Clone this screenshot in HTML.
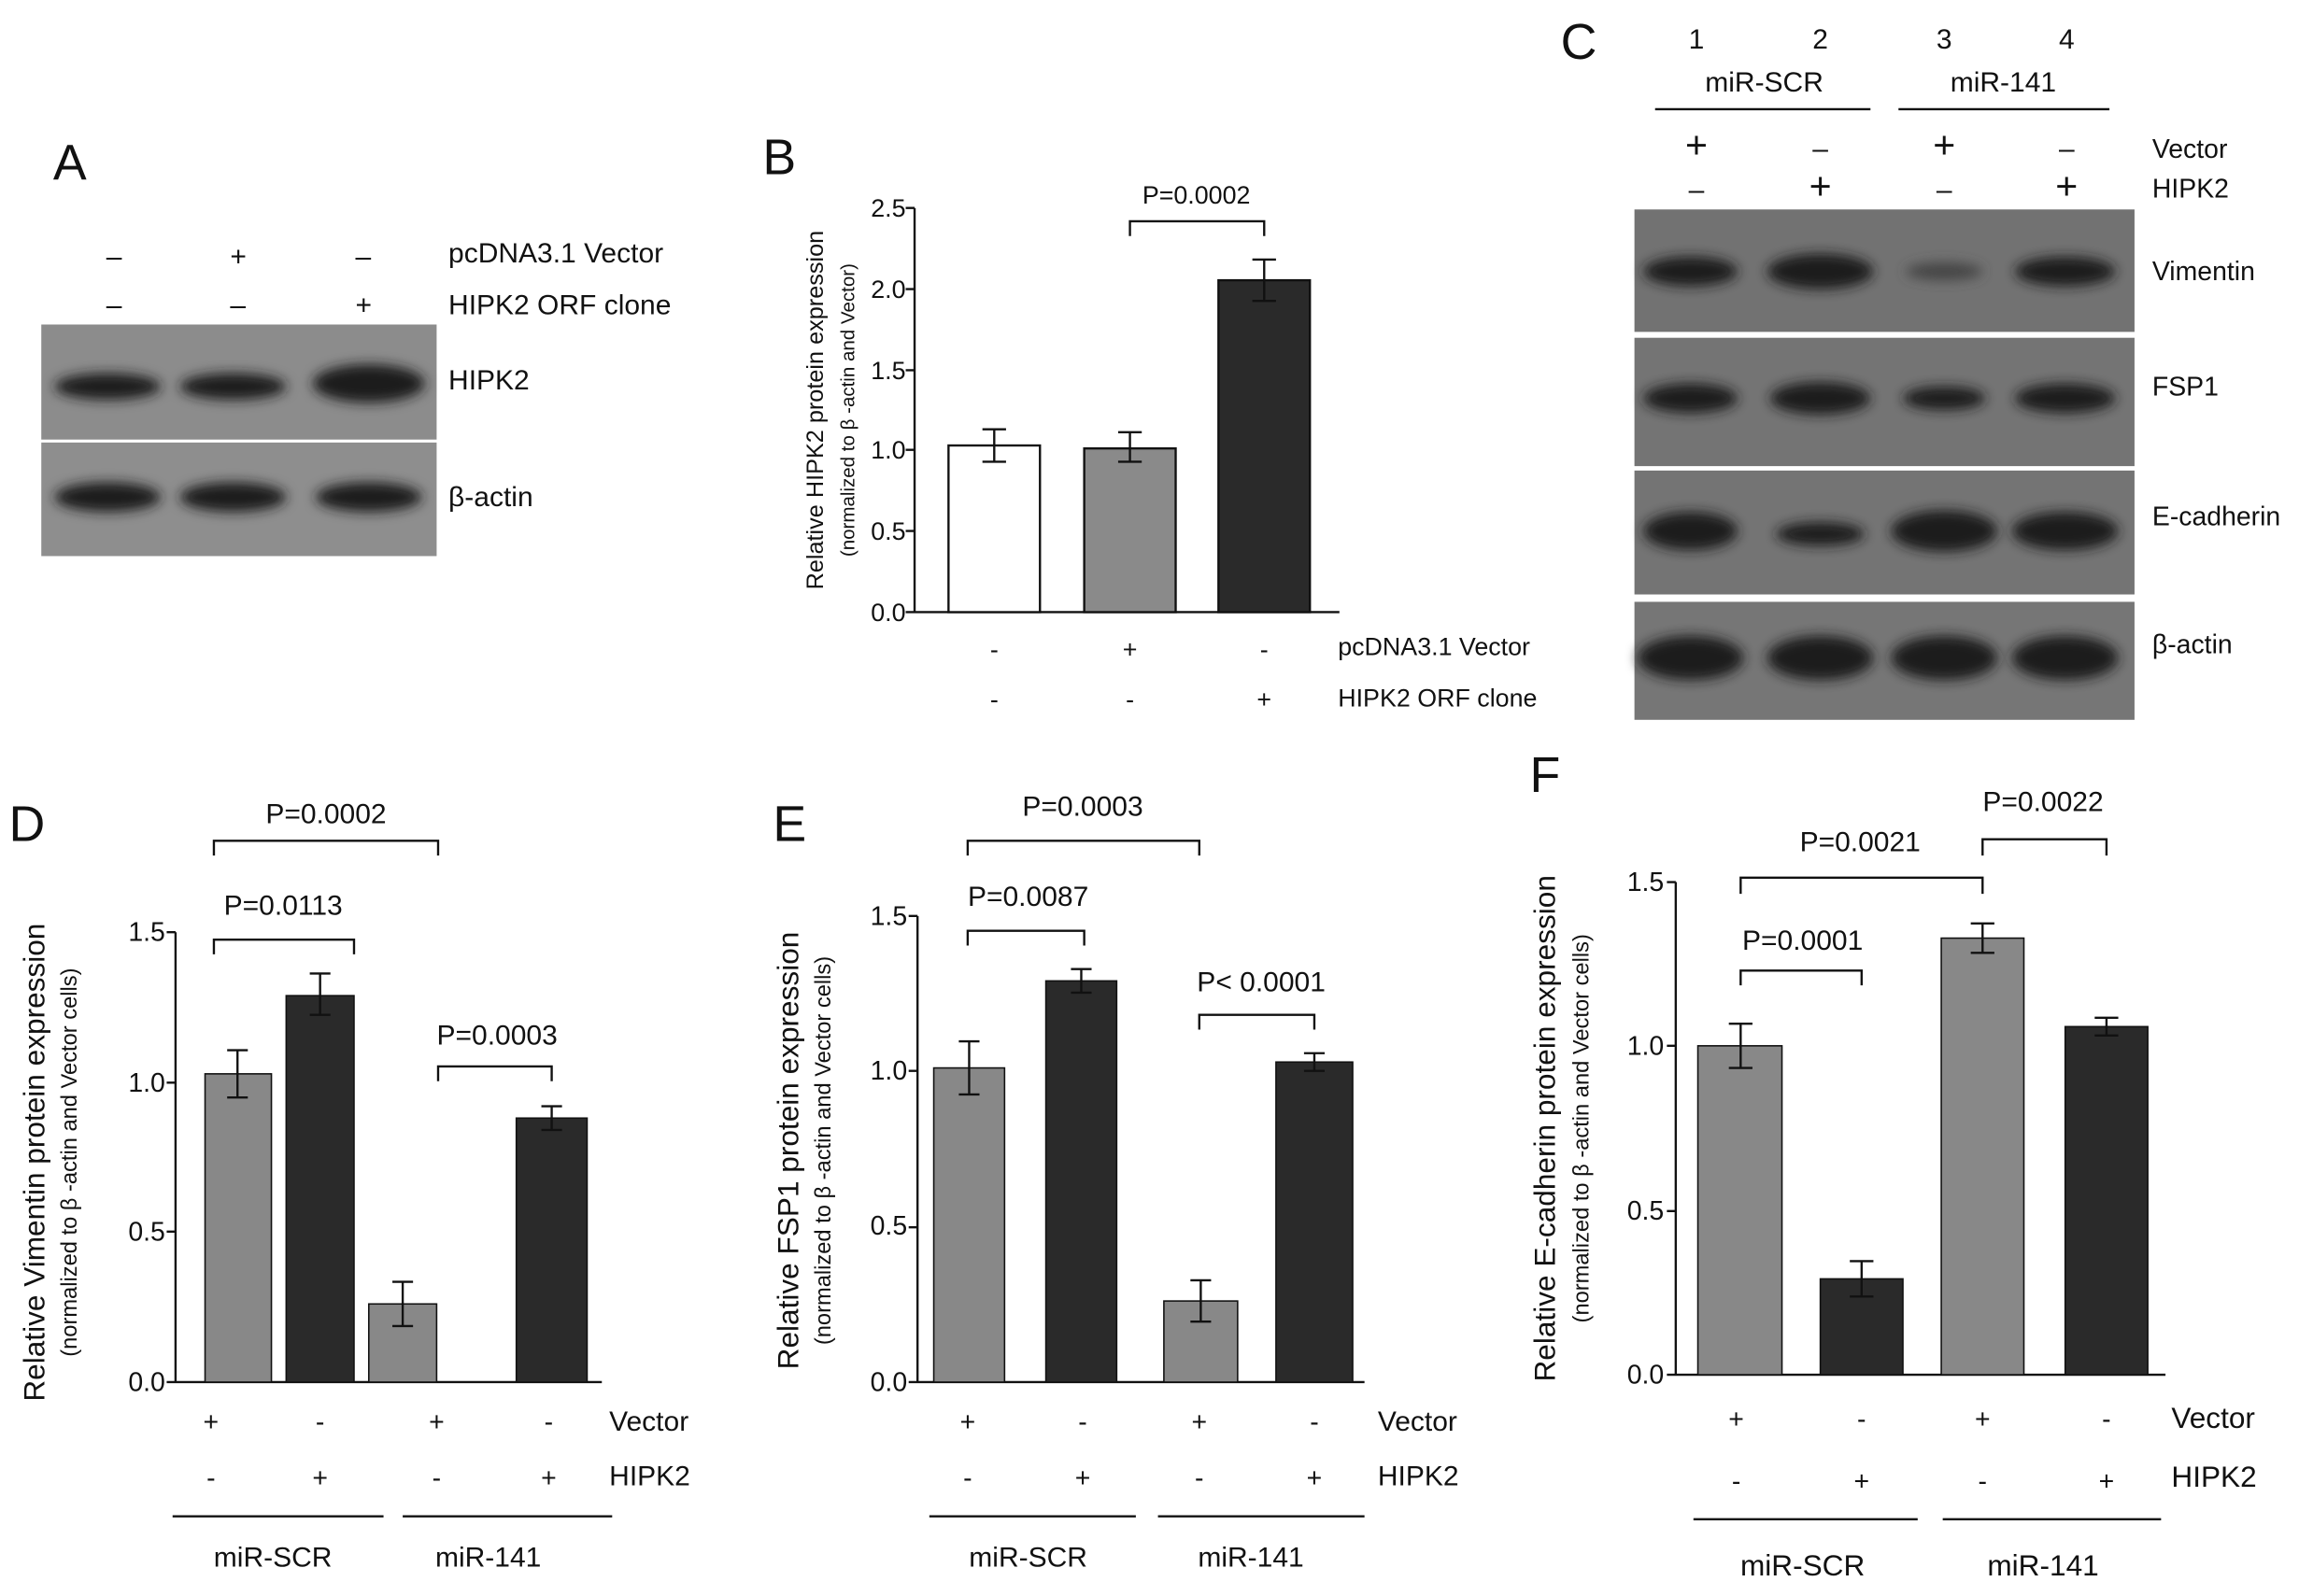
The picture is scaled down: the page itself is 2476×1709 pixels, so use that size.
<!DOCTYPE html>
<html><head><meta charset="utf-8"><style>
html,body{margin:0;padding:0;background:#fff;}
svg{display:block;}
text{font-family:"Liberation Sans",Arial,sans-serif;fill:#111;}
</style></head><body>
<svg width="2476" height="1709" viewBox="0 0 1568 1082" preserveAspectRatio="none" xmlns="http://www.w3.org/2000/svg">
<defs>
<filter id="blur" x="-20%" y="-50%" width="140%" height="200%"><feGaussianBlur stdDeviation="4"/></filter>
</defs>
<!-- Panel A -->
<text x="36" y="122" font-size="34">A</text>
<g font-size="19">
<text x="72" y="180">–</text><text x="156" y="180">+</text><text x="241" y="180">–</text>
<text x="72" y="213">–</text><text x="156" y="213">–</text><text x="241" y="213">+</text>
<text x="304" y="178">pcDNA3.1 Vector</text><text x="304" y="213">HIPK2 ORF clone</text>
<text x="304" y="264">HIPK2</text><text x="304" y="343">β-actin</text>
</g>
<rect x="28" y="220" width="268" height="78" fill="#8c8c8c"/>
<rect x="28" y="300" width="268" height="77" fill="#8e8e8e"/>
<g fill="#1c1c1c" filter="url(#blur)">
<ellipse cx="73" cy="262" rx="36" ry="9"/><ellipse cx="158" cy="262" rx="36" ry="9"/><ellipse cx="250" cy="260" rx="38" ry="13"/>
<ellipse cx="73" cy="337" rx="36" ry="10"/><ellipse cx="158" cy="337" rx="36" ry="10"/><ellipse cx="250" cy="337" rx="36" ry="10"/>
</g>
<!-- Panel B -->
<text x="517" y="118" font-size="34">B</text>
<g font-size="17" text-anchor="end">
<text x="614" y="147">2.5</text><text x="614" y="202">2.0</text><text x="614" y="257">1.5</text><text x="614" y="311">1.0</text><text x="614" y="366">0.5</text><text x="614" y="421">0.0</text>
</g>
<path d="M620 141V415H908M614 141H620M614 196H620M614 251H620M614 305H620M614 360H620M614 415H620" stroke="#111" stroke-width="1.5" fill="none"/>
<rect x="643" y="302" width="62" height="113" fill="#fff" stroke="#111" stroke-width="1.5"/>
<rect x="735" y="304" width="62" height="111" fill="#8a8a8a" stroke="#111" stroke-width="1.5"/>
<rect x="826" y="190" width="62" height="225" fill="#2a2a2a" stroke="#111" stroke-width="1.5"/>
<path d="M674 291V313M666 291H682M666 313H682M766 293V313M758 293H774M758 313H774M857 176V204M849 176H865M849 204H865" stroke="#111" stroke-width="1.5"/>
<path d="M766 160V150H857V160" stroke="#111" stroke-width="1.5" fill="none"/>
<text x="811" y="138" font-size="17" text-anchor="middle">P=0.0002</text>
<g font-size="17" text-anchor="middle"><text x="674" y="446">-</text><text x="766" y="446">+</text><text x="857" y="446">-</text><text x="674" y="480">-</text><text x="766" y="480">-</text><text x="857" y="480">+</text></g>
<text x="907" y="444" font-size="17">pcDNA3.1 Vector</text><text x="907" y="479" font-size="17">HIPK2 ORF clone</text>
<text transform="translate(558 278) rotate(-90)" font-size="16" text-anchor="middle">Relative HIPK2 protein expression</text>
<text transform="translate(579 278) rotate(-90)" font-size="13" text-anchor="middle">(normalized to β -actin and Vector)</text>
<!-- Panel C -->
<text x="1058" y="40" font-size="34">C</text>
<g font-size="19" text-anchor="middle">
<text x="1150" y="33">1</text><text x="1234" y="33">2</text><text x="1318" y="33">3</text><text x="1401" y="33">4</text>
<text x="1196" y="62">miR-SCR</text><text x="1358" y="62">miR-141</text>
<text x="1150" y="107" font-size="26">+</text><text x="1234" y="107">–</text><text x="1318" y="107" font-size="26">+</text><text x="1401" y="107">–</text>
<text x="1150" y="135">–</text><text x="1234" y="135" font-size="26">+</text><text x="1318" y="135">–</text><text x="1401" y="135" font-size="26">+</text>
</g>
<path d="M1122 74H1268M1287 74H1430" stroke="#111" stroke-width="1.5"/>
<text x="1459" y="107" font-size="18">Vector</text><text x="1459" y="134" font-size="18">HIPK2</text>
<rect x="1108" y="142" width="339" height="83" fill="#727272"/>
<rect x="1108" y="229" width="339" height="87" fill="#747474"/>
<rect x="1108" y="319" width="339" height="84" fill="#747474"/>
<rect x="1108" y="408" width="339" height="80" fill="#767676"/>
<g fill="#1a1a1a" filter="url(#blur)">
<ellipse cx="1146" cy="184" rx="32" ry="10"/><ellipse cx="1234" cy="184" rx="36" ry="12"/><ellipse cx="1318" cy="184" rx="26" ry="6" fill="#444"/><ellipse cx="1400" cy="184" rx="34" ry="10"/>
<ellipse cx="1146" cy="270" rx="32" ry="10"/><ellipse cx="1234" cy="270" rx="34" ry="11"/><ellipse cx="1318" cy="270" rx="28" ry="8"/><ellipse cx="1400" cy="270" rx="34" ry="10"/>
<ellipse cx="1146" cy="360" rx="32" ry="13"/><ellipse cx="1234" cy="362" rx="30" ry="8"/><ellipse cx="1318" cy="360" rx="36" ry="14"/><ellipse cx="1400" cy="360" rx="36" ry="13"/>
<ellipse cx="1146" cy="446" rx="36" ry="15"/><ellipse cx="1234" cy="446" rx="36" ry="15"/><ellipse cx="1318" cy="446" rx="36" ry="15"/><ellipse cx="1400" cy="446" rx="36" ry="15"/>
</g>
<g font-size="18"><text x="1459" y="190">Vimentin</text><text x="1459" y="268">FSP1</text><text x="1459" y="356">E-cadherin</text><text x="1459" y="443">β-actin</text></g>
<!-- Panel D -->
<text x="6" y="570" font-size="34">D</text>
<g font-size="18" text-anchor="end"><text x="112" y="638">1.5</text><text x="112" y="740">1.0</text><text x="112" y="841">0.5</text><text x="112" y="943">0.0</text></g>
<path d="M119 632V937H408M113 632H119M113 734H119M113 835H119M113 937H119" stroke="#111" stroke-width="1.5" fill="none"/>
<rect x="139" y="728" width="45" height="209" fill="#888" stroke="#111"/>
<rect x="194" y="675" width="46" height="262" fill="#2a2a2a" stroke="#111"/>
<rect x="250" y="884" width="46" height="53" fill="#888" stroke="#111"/>
<rect x="350" y="758" width="48" height="179" fill="#2a2a2a" stroke="#111"/>
<path d="M161 712V744M154 712H168M154 744H168M217 660V688M210 660H224M210 688H224M273 869V899M266 869H280M266 899H280M374 750V766M367 750H381M367 766H381" stroke="#111" stroke-width="1.5"/>
<path d="M145 580V570H297V580M145 647V637H240V647M297 733V723H374V733" stroke="#111" stroke-width="1.5" fill="none"/>
<g font-size="19" text-anchor="middle"><text x="221" y="558">P=0.0002</text><text x="192" y="620">P=0.0113</text><text x="337" y="708">P=0.0003</text></g>
<g font-size="18" text-anchor="middle"><text x="143" y="970">+</text><text x="217" y="970">-</text><text x="296" y="970">+</text><text x="372" y="970">-</text><text x="143" y="1008">-</text><text x="217" y="1008">+</text><text x="296" y="1008">-</text><text x="372" y="1008">+</text></g>
<text x="413" y="970" font-size="19">Vector</text><text x="413" y="1007" font-size="19">HIPK2</text>
<path d="M117 1028H260M273 1028H415" stroke="#111" stroke-width="1.5"/>
<text x="185" y="1062" font-size="19" text-anchor="middle">miR-SCR</text><text x="331" y="1062" font-size="19" text-anchor="middle">miR-141</text>
<text transform="translate(30 788) rotate(-90)" font-size="20" text-anchor="middle">Relative Vimentin protein expression</text>
<text transform="translate(52 788) rotate(-90)" font-size="15" text-anchor="middle">(normalized to β -actin and Vector cells)</text>
<!-- Panel E -->
<text x="524" y="570" font-size="34">E</text>
<g font-size="18" text-anchor="end"><text x="615" y="627">1.5</text><text x="615" y="732">1.0</text><text x="615" y="837">0.5</text><text x="615" y="943">0.0</text></g>
<path d="M622 621V937H925M616 621H622M616 726H622M616 832H622M616 937H622" stroke="#111" stroke-width="1.5" fill="none"/>
<rect x="633" y="724" width="48" height="213" fill="#888" stroke="#111"/>
<rect x="709" y="665" width="48" height="272" fill="#2a2a2a" stroke="#111"/>
<rect x="789" y="882" width="50" height="55" fill="#888" stroke="#111"/>
<rect x="865" y="720" width="52" height="217" fill="#2a2a2a" stroke="#111"/>
<path d="M657 706V742M650 706H664M650 742H664M733 657V673M726 657H740M726 673H740M814 868V896M807 868H821M807 896H821M891 714V726M884 714H898M884 726H898" stroke="#111" stroke-width="1.5"/>
<path d="M656 580V570H813V580M656 641V631H735V641M813 698V688H891V698" stroke="#111" stroke-width="1.5" fill="none"/>
<g font-size="19" text-anchor="middle"><text x="734" y="553">P=0.0003</text><text x="697" y="614">P=0.0087</text><text x="855" y="672">P&lt; 0.0001</text></g>
<g font-size="18" text-anchor="middle"><text x="656" y="970">+</text><text x="734" y="970">-</text><text x="813" y="970">+</text><text x="891" y="970">-</text><text x="656" y="1008">-</text><text x="734" y="1008">+</text><text x="813" y="1008">-</text><text x="891" y="1008">+</text></g>
<text x="934" y="970" font-size="19">Vector</text><text x="934" y="1007" font-size="19">HIPK2</text>
<path d="M630 1028H770M785 1028H925" stroke="#111" stroke-width="1.5"/>
<text x="697" y="1062" font-size="19" text-anchor="middle">miR-SCR</text><text x="848" y="1062" font-size="19" text-anchor="middle">miR-141</text>
<text transform="translate(541 780) rotate(-90)" font-size="20" text-anchor="middle">Relative FSP1 protein expression</text>
<text transform="translate(563 780) rotate(-90)" font-size="15" text-anchor="middle">(normalized to β -actin and Vector cells)</text>
<!-- Panel F -->
<text x="1037" y="537" font-size="34">F</text>
<g font-size="18" text-anchor="end"><text x="1128" y="604">1.5</text><text x="1128" y="715">1.0</text><text x="1128" y="827">0.5</text><text x="1128" y="938">0.0</text></g>
<path d="M1136 598V932H1468M1130 598H1136M1130 709H1136M1130 821H1136M1130 932H1136" stroke="#111" stroke-width="1.5" fill="none"/>
<rect x="1151" y="709" width="57" height="223" fill="#888" stroke="#111"/>
<rect x="1234" y="867" width="56" height="65" fill="#2a2a2a" stroke="#111"/>
<rect x="1316" y="636" width="56" height="296" fill="#888" stroke="#111"/>
<rect x="1400" y="696" width="56" height="236" fill="#2a2a2a" stroke="#111"/>
<path d="M1180 694V724M1172 694H1188M1172 724H1188M1262 855V879M1254 855H1270M1254 879H1270M1344 626V646M1336 626H1352M1336 646H1352M1428 690V702M1420 690H1436M1420 702H1436" stroke="#111" stroke-width="1.5"/>
<path d="M1180 606V595H1344V606M1180 668V658H1262V668M1344 580V569H1428V580" stroke="#111" stroke-width="1.5" fill="none"/>
<g font-size="19" text-anchor="middle"><text x="1261" y="577">P=0.0021</text><text x="1222" y="644">P=0.0001</text><text x="1385" y="550">P=0.0022</text></g>
<g font-size="18" text-anchor="middle"><text x="1177" y="968">+</text><text x="1262" y="968">-</text><text x="1344" y="968">+</text><text x="1428" y="968">-</text><text x="1177" y="1010">-</text><text x="1262" y="1010">+</text><text x="1344" y="1010">-</text><text x="1428" y="1010">+</text></g>
<text x="1472" y="968" font-size="20">Vector</text><text x="1472" y="1008" font-size="20">HIPK2</text>
<path d="M1148 1030H1300M1317 1030H1465" stroke="#111" stroke-width="1.5"/>
<text x="1222" y="1068" font-size="20" text-anchor="middle">miR-SCR</text><text x="1385" y="1068" font-size="20" text-anchor="middle">miR-141</text>
<text transform="translate(1054 765) rotate(-90)" font-size="20" text-anchor="middle">Relative E-cadherin protein expression</text>
<text transform="translate(1077 765) rotate(-90)" font-size="15" text-anchor="middle">(normalized to β -actin and Vector cells)</text>
</svg>
</body></html>
